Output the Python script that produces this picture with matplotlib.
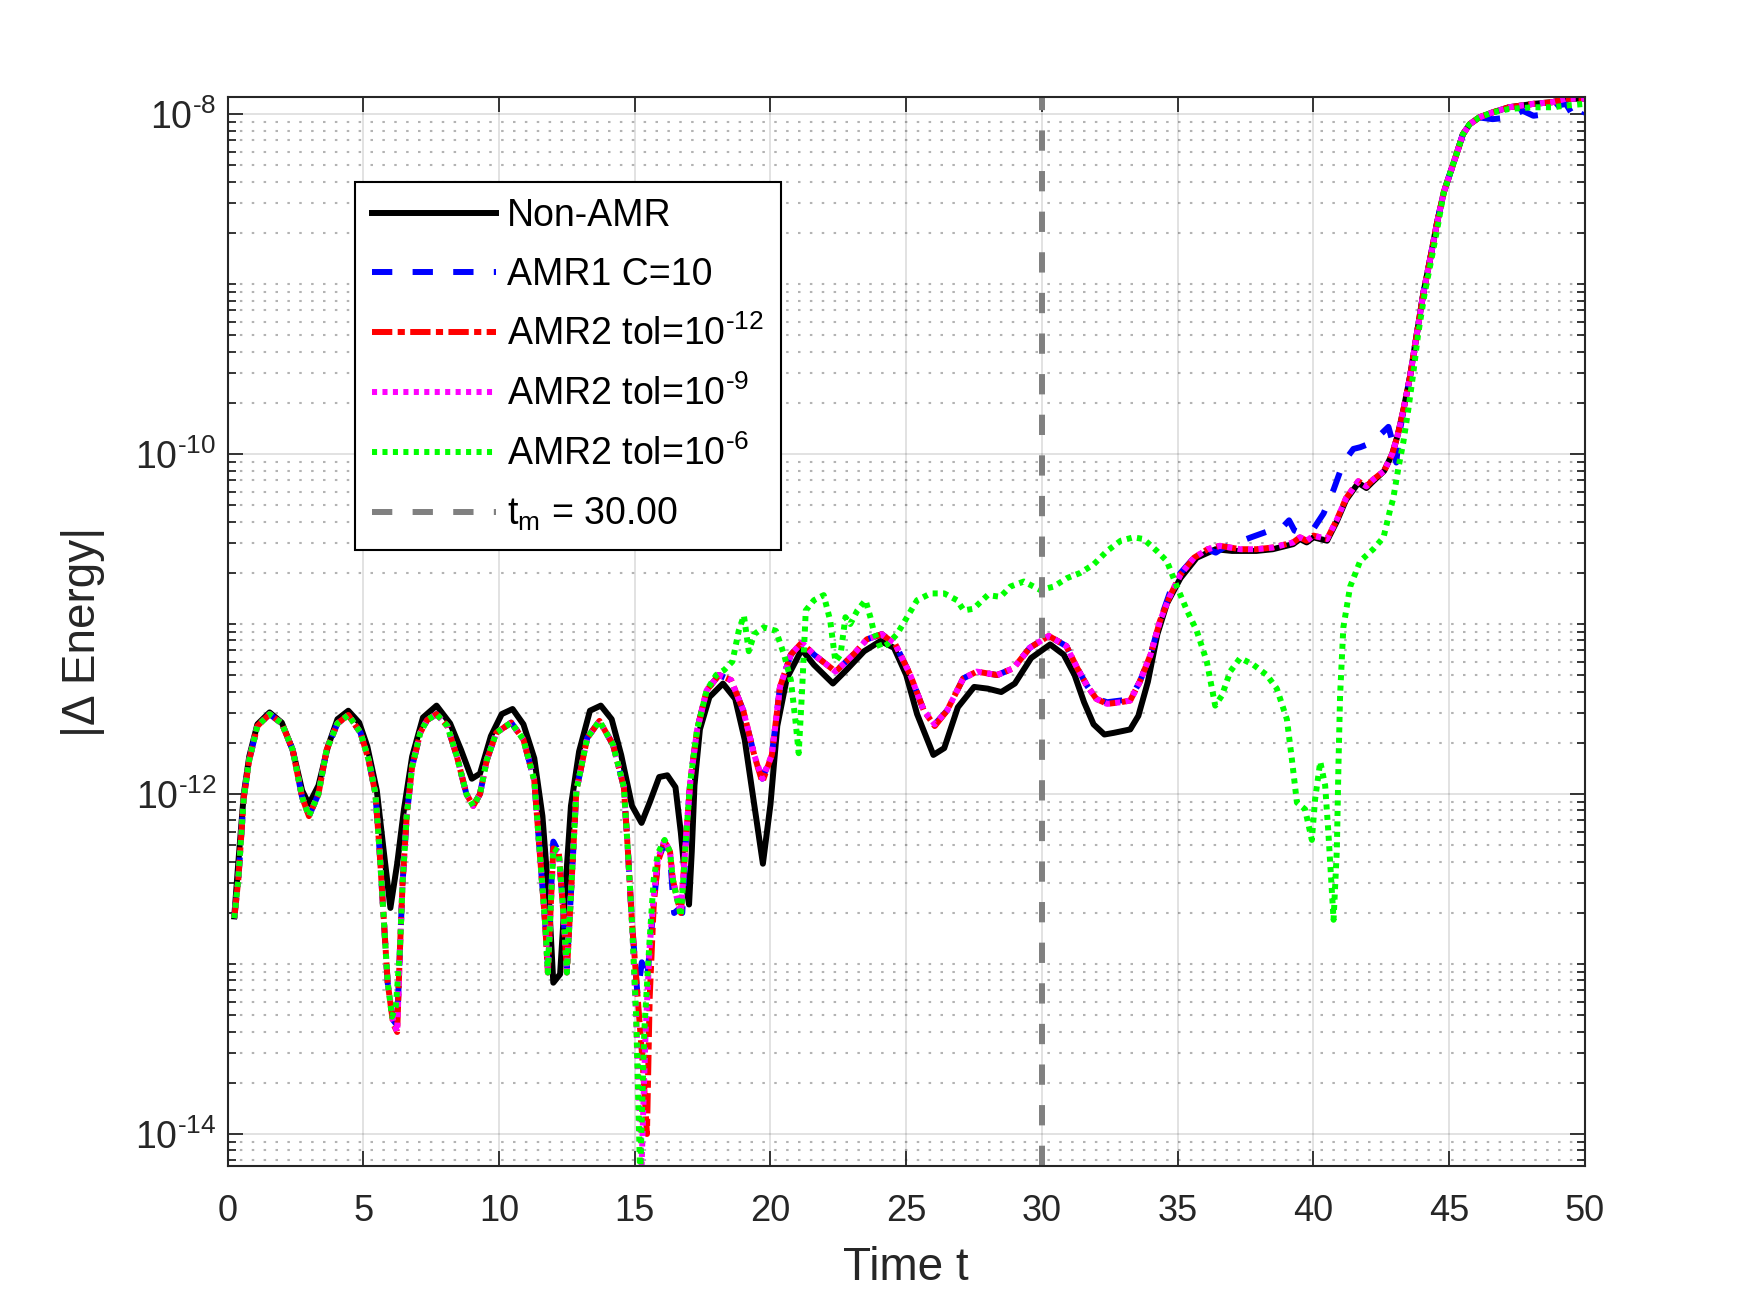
import numpy as np
import matplotlib.pyplot as plt

plt.rcParams['font.family'] = ['Liberation Sans', 'DejaVu Sans']
plt.rcParams['mathtext.fontset'] = 'custom'
plt.rcParams['mathtext.rm'] = 'Liberation Sans'
plt.rcParams['mathtext.it'] = 'Liberation Sans:italic'

# ---------------- data (log10 of |delta energy|) ----------------
t_non = [0.25, 0.4, 0.6, 0.8, 1.1, 1.55, 2.0, 2.4, 2.75, 3.0, 3.35, 3.7, 4.05, 4.45, 4.85,
         5.15, 5.5, 5.75, 6.0, 6.25, 6.5, 6.8, 7.2, 7.7, 8.2, 8.6, 9.0, 9.3, 9.7, 10.1,
         10.5, 10.9, 11.3, 11.6, 11.85, 12.0, 12.25, 12.45, 12.65, 12.95, 13.35, 13.75, 14.15, 14.5, 14.9,
         15.25, 15.55, 15.9, 16.2, 16.5, 16.7, 16.85, 17.0, 17.1, 17.2, 17.4, 17.75, 18.25, 18.7, 19.05,
         19.4, 19.72, 20.0, 20.25, 20.6, 21.15, 21.6, 22.3, 22.8, 23.45, 24.05, 24.55, 25.0, 25.4, 26.0,
         26.4, 26.9, 27.5, 28.0, 28.5, 29.0, 29.6, 30.3, 30.8, 31.2, 31.55, 31.9, 32.3, 32.65, 33.25,
         33.55, 33.9, 34.25, 34.6, 35.1, 35.7, 36.4, 37.0, 37.9, 38.5, 39.25, 39.5, 39.75, 40.0, 40.5,
         40.85, 41.2, 41.65, 41.95, 42.2, 42.6, 42.9, 43.1, 43.3, 43.55, 43.8, 44.05, 44.3, 44.55, 44.8,
         45.05, 45.3, 45.5, 45.75, 46.1, 46.6, 47.2, 48.1, 48.8, 49.3, 50.0]
e_non = [-12.72, -12.4, -12.0, -11.78, -11.59, -11.52, -11.58, -11.74, -11.98, -12.06, -11.95, -11.72, -11.56, -11.51, -11.58,
         -11.72, -11.98, -12.33, -12.67, -12.41, -12.09, -11.78, -11.55, -11.48, -11.585, -11.74, -11.91, -11.88, -11.66, -11.53,
         -11.50, -11.59, -11.79, -12.13, -12.65, -13.11, -13.06, -12.55, -12.07, -11.75, -11.51, -11.48, -11.56, -11.77, -12.07,
         -12.17, -12.05, -11.90, -11.89, -11.96, -12.23, -12.49, -12.65, -12.34, -11.95, -11.62, -11.43, -11.35, -11.44, -11.68,
         -12.06, -12.41, -12.06, -11.60, -11.32, -11.15, -11.24, -11.35, -11.27, -11.16, -11.10, -11.14, -11.30, -11.53, -11.77,
         -11.73, -11.49, -11.37, -11.38, -11.40, -11.35, -11.20, -11.12, -11.18, -11.30, -11.46, -11.59, -11.65, -11.64, -11.62,
         -11.54, -11.34, -11.06, -10.88, -10.73, -10.61, -10.56, -10.57, -10.57, -10.56, -10.53, -10.50, -10.52, -10.49, -10.51,
         -10.40, -10.27, -10.17, -10.20, -10.16, -10.10, -10.00, -9.89, -9.75, -9.55, -9.30, -9.05, -8.85, -8.64, -8.46,
         -8.34, -8.22, -8.12, -8.06, -8.02, -7.99, -7.96, -7.94, -7.93, -7.91, -7.91]

t_amr1 = [0.25, 0.4, 0.6, 0.8, 1.1, 1.55, 2.0, 2.4, 2.75, 3.0, 3.35, 3.65, 4.05, 4.45, 4.9,
          5.2, 5.45, 5.6, 5.75, 5.9, 6.1, 6.25, 6.35, 6.45, 6.6, 6.8, 7.1, 7.35, 7.7, 8.1,
          8.45, 8.8, 9.05, 9.3, 9.55, 9.9, 10.45, 10.9, 11.3, 11.5, 11.7, 11.8, 12.0, 12.2, 12.4,
          12.5, 12.7, 12.85, 13.25, 13.7, 14.2, 14.6, 14.75, 14.9, 15.1, 15.26, 15.45, 15.7, 15.85, 16.1,
          16.3, 16.45, 16.6, 16.75, 16.9, 17.05, 17.3, 17.65, 18.1, 18.55, 19.0, 19.4, 19.7, 20.05, 20.35,
          20.75, 21.15, 21.6, 22.4, 23.05, 23.55, 24.1, 24.6, 25.15, 25.65, 26.05, 26.5, 27.1, 27.6, 28.35,
          28.95, 29.55, 30.25, 30.9, 31.3, 31.65, 32.0, 32.4, 32.9, 33.25, 33.6, 34.0, 34.35, 34.7, 35.1,
          35.6, 36.1, 36.4, 36.7, 37.2, 37.7, 38.4, 38.8, 39.1, 39.3, 39.6, 40.0, 40.37, 40.74, 41.1,
          41.47, 41.72, 42.2, 42.5, 42.76, 42.95, 43.05, 43.15, 43.31, 43.55, 43.8, 44.05, 44.3, 44.55, 44.8,
          45.05, 45.3, 45.5, 45.75, 46.1, 46.6, 47.2, 47.7, 48.1, 48.6, 49.0, 49.3, 49.6, 49.85, 50.0]
e_amr1 = [-12.73, -12.5, -12.02, -11.80, -11.60, -11.53, -11.585, -11.74, -12.02, -12.13, -12.0, -11.74, -11.585, -11.535, -11.64,
          -11.80, -12.0, -12.33, -12.72, -13.11, -13.33, -13.36, -12.92, -12.52, -12.13, -11.84, -11.64, -11.565, -11.53, -11.6,
          -11.78, -12.0, -12.07, -12.0, -11.80, -11.64, -11.58, -11.68, -11.92, -12.34, -12.76, -13.0, -12.28, -12.34, -12.76,
          -13.02, -12.44, -11.98, -11.67, -11.57, -11.71, -11.96, -12.34, -12.76, -13.18, -12.99, -13.1, -12.65, -12.40, -12.28,
          -12.36, -12.7, -12.68, -12.70, -12.23, -11.92, -11.62, -11.39, -11.30, -11.33, -11.51, -11.77, -11.91, -11.77, -11.37,
          -11.18, -11.11, -11.18, -11.28, -11.18, -11.09, -11.06, -11.12, -11.30, -11.51, -11.59, -11.51, -11.32, -11.28, -11.30,
          -11.26, -11.14, -11.07, -11.13, -11.26, -11.36, -11.44, -11.46, -11.45, -11.44, -11.34, -11.18, -10.98, -10.82, -10.70,
          -10.61, -10.56, -10.58, -10.55, -10.52, -10.49, -10.45, -10.44, -10.39, -10.45, -10.47, -10.44, -10.35, -10.21, -10.05,
          -9.97, -9.96, -9.93, -9.88, -9.84, -9.95, -10.05, -9.89, -9.75, -9.55, -9.30, -9.05, -8.85, -8.64, -8.46,
          -8.34, -8.22, -8.12, -8.06, -8.02, -8.03, -8.02, -7.98, -8.01, -8.0, -7.95, -7.94, -8.02, -8.04, -7.99]

t_tol12 = [0.25, 0.4, 0.6, 0.8, 1.1, 1.55, 2.0, 2.4, 2.75, 3.0, 3.35, 3.65, 4.05, 4.45, 4.9,
           5.2, 5.45, 5.6, 5.75, 5.9, 6.1, 6.25, 6.35, 6.45, 6.6, 6.8, 7.1, 7.35, 7.7, 8.1,
           8.45, 8.8, 9.05, 9.3, 9.55, 9.9, 10.45, 10.9, 11.3, 11.5, 11.7, 11.8, 12.0, 12.2, 12.4,
           12.5, 12.7, 12.85, 13.25, 13.7, 14.2, 14.6, 14.75, 14.9, 15.1, 15.3, 15.45, 15.55, 15.7, 15.85,
           16.1, 16.3, 16.4, 16.55, 16.7, 16.9, 17.05, 17.3, 17.65, 18.1, 18.55, 19.0, 19.4, 19.7, 20.05,
           20.35, 20.75, 21.15, 21.6, 22.4, 23.05, 23.55, 24.1, 24.6, 25.15, 25.65, 26.05, 26.5, 27.1, 27.6,
           28.35, 28.95, 29.55, 30.25, 30.9, 31.3, 31.65, 32.0, 32.4, 32.9, 33.25, 33.6, 34.0, 34.35, 34.7,
           35.1, 35.6, 36.1, 36.55, 37.3, 37.9, 38.5, 39.25, 39.5, 39.75, 40.0, 40.5, 40.85, 41.2, 41.65,
           41.95, 42.2, 42.6, 42.9, 43.1, 43.3, 43.55, 43.8, 44.05, 44.3, 44.55, 44.8, 45.05, 45.3, 45.5,
           45.75, 46.1, 46.6, 47.2, 48.1, 48.8, 49.3, 50.0]
e_tol12 = [-12.73, -12.5, -12.02, -11.80, -11.60, -11.53, -11.585, -11.74, -12.02, -12.13, -12.0, -11.74, -11.585, -11.535, -11.64,
           -11.80, -12.0, -12.33, -12.72, -13.11, -13.35, -13.40, -12.92, -12.52, -12.13, -11.84, -11.64, -11.565, -11.53, -11.6,
           -11.78, -12.0, -12.07, -12.0, -11.80, -11.64, -11.58, -11.68, -11.92, -12.34, -12.76, -13.05, -12.32, -12.34, -12.76,
           -13.05, -12.44, -11.98, -11.67, -11.57, -11.71, -11.96, -12.34, -12.76, -13.18, -13.6, -14.0, -13.2, -12.65, -12.40,
           -12.28, -12.34, -12.5, -12.61, -12.70, -12.23, -11.92, -11.62, -11.39, -11.30, -11.33, -11.51, -11.77, -11.93, -11.77,
           -11.37, -11.18, -11.11, -11.18, -11.28, -11.18, -11.09, -11.06, -11.12, -11.30, -11.51, -11.60, -11.51, -11.32, -11.28,
           -11.30, -11.26, -11.14, -11.07, -11.13, -11.26, -11.36, -11.44, -11.47, -11.46, -11.45, -11.34, -11.18, -10.98, -10.84,
           -10.71, -10.61, -10.56, -10.54, -10.56, -10.56, -10.55, -10.52, -10.49, -10.51, -10.48, -10.50, -10.39, -10.26, -10.16,
           -10.19, -10.15, -10.10, -10.00, -9.89, -9.75, -9.55, -9.30, -9.05, -8.85, -8.64, -8.46, -8.34, -8.22, -8.12,
           -8.06, -8.02, -7.99, -7.96, -7.94, -7.93, -7.91, -7.91]

t_tol9 = [0.25, 0.4, 0.6, 0.8, 1.1, 1.55, 2.0, 2.4, 2.75, 3.0, 3.35, 3.65, 4.05, 4.45, 4.9,
          5.2, 5.45, 5.6, 5.75, 5.9, 6.1, 6.25, 6.35, 6.45, 6.6, 6.8, 7.1, 7.35, 7.7, 8.1,
          8.45, 8.8, 9.05, 9.3, 9.55, 9.9, 10.45, 10.9, 11.3, 11.5, 11.7, 11.8, 12.0, 12.2, 12.4,
          12.5, 12.7, 12.85, 13.25, 13.7, 14.2, 14.6, 14.75, 14.9, 15.05, 15.25, 15.4, 15.55, 15.7, 15.85,
          16.1, 16.3, 16.4, 16.55, 16.7, 16.9, 17.05, 17.3, 17.65, 18.1, 18.55, 19.0, 19.4, 19.7, 20.05,
          20.35, 20.75, 21.15, 21.6, 22.4, 23.05, 23.55, 24.1, 24.6, 25.15, 25.65, 26.05, 26.5, 27.1, 27.6,
          28.35, 28.95, 29.55, 30.25, 30.9, 31.3, 31.65, 32.0, 32.4, 32.9, 33.25, 33.6, 34.0, 34.35, 34.7,
          35.1, 35.6, 36.1, 36.55, 37.3, 37.9, 38.5, 39.25, 39.5, 39.75, 40.0, 40.5, 40.85, 41.2, 41.65,
          41.95, 42.2, 42.6, 42.9, 43.1, 43.3, 43.55, 43.8, 44.05, 44.3, 44.55, 44.8, 45.05, 45.3, 45.5,
          45.75, 46.1, 46.6, 47.2, 48.1, 48.8, 49.3, 50.0]
e_tol9 = [-12.73, -12.5, -12.02, -11.80, -11.60, -11.53, -11.585, -11.74, -12.02, -12.13, -12.0, -11.74, -11.585, -11.535, -11.64,
          -11.80, -12.0, -12.33, -12.72, -13.11, -13.33, -13.40, -12.92, -12.52, -12.13, -11.84, -11.64, -11.565, -11.53, -11.6,
          -11.78, -12.0, -12.07, -12.0, -11.80, -11.64, -11.58, -11.68, -11.92, -12.34, -12.76, -13.05, -12.32, -12.34, -12.76,
          -13.05, -12.44, -11.98, -11.67, -11.57, -11.71, -11.96, -12.34, -12.76, -13.3, -14.2, -13.4, -12.9, -12.6, -12.38,
          -12.27, -12.34, -12.5, -12.61, -12.70, -12.23, -11.92, -11.62, -11.39, -11.30, -11.33, -11.51, -11.77, -11.91, -11.77,
          -11.37, -11.18, -11.11, -11.18, -11.28, -11.18, -11.09, -11.06, -11.12, -11.30, -11.51, -11.59, -11.51, -11.32, -11.28,
          -11.30, -11.26, -11.14, -11.07, -11.13, -11.26, -11.36, -11.44, -11.47, -11.46, -11.45, -11.34, -11.18, -10.98, -10.84,
          -10.71, -10.61, -10.56, -10.54, -10.56, -10.56, -10.55, -10.52, -10.49, -10.51, -10.48, -10.50, -10.39, -10.26, -10.16,
          -10.19, -10.15, -10.10, -10.00, -9.89, -9.75, -9.55, -9.30, -9.05, -8.85, -8.64, -8.46, -8.34, -8.22, -8.12,
          -8.06, -8.02, -7.99, -7.96, -7.94, -7.93, -7.91, -7.91]

t_tol6 = [0.25, 0.4, 0.6, 0.8, 1.1, 1.55, 2.0, 2.4, 2.75, 3.0, 3.35, 3.65, 4.05, 4.45, 4.9,
          5.2, 5.45, 5.6, 5.75, 5.9, 6.06, 6.2, 6.35, 6.45, 6.6, 6.8, 7.1, 7.35, 7.7, 8.1,
          8.45, 8.8, 9.05, 9.3, 9.55, 9.9, 10.45, 10.9, 11.3, 11.5, 11.7, 11.8, 12.0, 12.2, 12.4,
          12.5, 12.7, 12.85, 13.25, 13.7, 14.2, 14.6, 14.75, 14.9, 15.05, 15.2, 15.35, 15.55, 15.7, 15.85,
          16.1, 16.3, 16.4, 16.55, 16.7, 16.9, 17.05, 17.3, 17.65, 18.0, 18.3, 18.6, 18.83, 19.02, 19.2,
          19.4, 19.75, 20.2, 20.5, 20.75, 20.92, 21.04, 21.17, 21.3, 21.6, 21.96, 22.2, 22.39, 22.58, 22.76,
          22.94, 23.2, 23.5, 23.68, 23.8, 24.05, 24.3, 24.66, 25.03, 25.4, 25.9, 26.4, 26.87, 27.12, 27.48,
          28.0, 28.47, 28.83, 29.33, 29.94, 30.43, 30.92, 31.4, 31.9, 32.4, 32.9, 33.37, 33.74, 34.23, 34.6,
          34.97, 35.34, 35.7, 36.07, 36.38, 36.63, 36.93, 37.3, 37.79, 38.28, 38.65, 39.02, 39.2, 39.39, 39.69,
          39.94, 40.06, 40.25, 40.43, 40.55, 40.74, 40.86, 40.92, 40.98, 41.1, 41.35, 41.72, 42.2, 42.58, 42.82,
          42.94, 43.13, 43.31, 43.5, 43.68, 43.85, 44.1, 44.35, 44.6, 44.8, 45.05, 45.3, 45.5, 45.75, 46.1,
          46.6, 47.2, 48.1, 48.8, 49.3, 50.0]
e_tol6 = [-12.73, -12.5, -12.02, -11.80, -11.60, -11.53, -11.585, -11.74, -12.02, -12.13, -12.0, -11.74, -11.585, -11.535, -11.64,
          -11.80, -12.0, -12.33, -12.72, -13.11, -13.31, -13.25, -12.92, -12.52, -12.13, -11.84, -11.64, -11.565, -11.53, -11.6,
          -11.78, -12.0, -12.07, -12.0, -11.80, -11.64, -11.58, -11.68, -11.92, -12.34, -12.76, -13.05, -12.32, -12.34, -12.76,
          -13.05, -12.44, -11.98, -11.67, -11.57, -11.71, -11.96, -12.34, -12.76, -13.3, -14.25, -13.4, -12.85, -12.5, -12.35,
          -12.27, -12.34, -12.5, -12.61, -12.72, -12.23, -11.92, -11.62, -11.39, -11.30, -11.27, -11.22, -11.04, -10.95, -11.16,
          -11.06, -11.02, -11.04, -11.18, -11.33, -11.57, -11.76, -11.37, -10.92, -10.86, -10.83, -10.98, -11.22, -11.18, -10.96,
          -11.00, -10.92, -10.86, -10.96, -11.04, -11.14, -11.12, -11.06, -10.96, -10.86, -10.82, -10.82, -10.86, -10.92, -10.91,
          -10.83, -10.84, -10.78, -10.75, -10.80, -10.78, -10.73, -10.70, -10.65, -10.57, -10.51, -10.49, -10.50, -10.57, -10.63,
          -10.78, -10.92, -11.04, -11.22, -11.48, -11.42, -11.28, -11.20, -11.24, -11.30, -11.38, -11.56, -11.79, -12.05, -12.09,
          -12.27, -12.03, -11.81, -11.95, -12.23, -12.74, -12.33, -11.83, -11.42, -11.02, -10.78, -10.63, -10.56, -10.49, -10.33,
          -10.26, -10.08, -9.93, -9.73, -9.52, -9.30, -9.05, -8.85, -8.64, -8.46, -8.34, -8.22, -8.12, -8.06, -8.02,
          -7.99, -7.97, -7.96, -7.96, -7.95, -7.94]

t_m = 30.0

# ---------------- plot ----------------
fig = plt.figure(figsize=(17.5, 12.89), dpi=100)
ax = fig.add_axes([0.130, 0.0952, 0.7757, 0.8295])

lw = 4.3
ax.plot(t_non, 10.0 ** np.array(e_non), color='k', lw=lw, label='Non-AMR')
ax.plot(t_amr1, 10.0 ** np.array(e_amr1), color='b', lw=lw, dashes=(3.4, 3.4), label='AMR1 C=10')
ax.plot(t_tol12, 10.0 ** np.array(e_tol12), color='r', lw=lw, dashes=(3.4, 0.9, 1.2, 0.9),
        label=r'AMR2 tol=$\mathregular{10^{\text{-}12}}$')
ax.plot(t_tol9, 10.0 ** np.array(e_tol9), color='#ff00ff', lw=lw, dashes=(0.85, 0.9),
        label=r'AMR2 tol=$\mathregular{10^{\text{-}9}}$')
ax.plot(t_tol6, 10.0 ** np.array(e_tol6), color='#00ff00', lw=lw, dashes=(0.85, 0.9),
        label=r'AMR2 tol=$\mathregular{10^{\text{-}6}}$')
ax.axvline(t_m, color=(0.5, 0.5, 0.5), lw=lw, dashes=(3.4, 3.4),
           label=r'$\mathregular{t_m}$ = %.2f' % t_m)

ax.set_yscale('log')
ax.set_xticks(np.arange(0, 51, 5))
ax.set_yticks([1e-14, 1e-12, 1e-10, 1e-8])
ax.set_yticklabels([r'$\mathregular{10^{\text{-}14}}$', r'$\mathregular{10^{\text{-}12}}$',
                    r'$\mathregular{10^{\text{-}10}}$', r'$\mathregular{10^{\text{-}8}}$'])
minor = [m * 10.0 ** k for k in range(-15, -7) for m in range(1, 10)]
minor = [v for v in minor if v not in (1e-14, 1e-12, 1e-10, 1e-8)]
ax.set_yticks(minor, minor=True)
ax.yaxis.set_minor_formatter(plt.NullFormatter())
ax.set_xlim(0, 50)
ax.set_ylim(10 ** -14.19, 10 ** -7.9)

dark = (0.15, 0.15, 0.15)
ax.tick_params(which='both', direction='in', top=True, right=True, colors=dark, labelsize=26, width=1.3)
ax.tick_params(axis='y', labelsize=27, pad=8)
ax.tick_params(which='major', length=11)
ax.tick_params(which='minor', length=6)
ax.tick_params(axis='x', pad=20)
for s in ax.spines.values():
    s.set_color(dark)
    s.set_linewidth(1.5)

ax.grid(True, which='major', color=dark, alpha=0.15, lw=1.3, ls='-')
ax.grid(True, which='minor', axis='y', color=dark, alpha=0.35, lw=1.5, ls=(0, (1.2, 4.5)))
ax.set_axisbelow(True)

ax.set_xlabel('Time t', fontsize=33, color=dark, labelpad=12)
ax.set_ylabel('|Δ Energy|', fontsize=33, color=dark, labelpad=22)

leg = ax.legend(loc='upper left', bbox_to_anchor=(0.094, 0.921), borderaxespad=0,
                fontsize=27, handlelength=3.3, handletextpad=0.3, labelspacing=0.6,
                borderpad=0.45, fancybox=False, framealpha=1, edgecolor='k')
leg.get_frame().set_linewidth(1.5)

fig.savefig('out.png', dpi=100)
